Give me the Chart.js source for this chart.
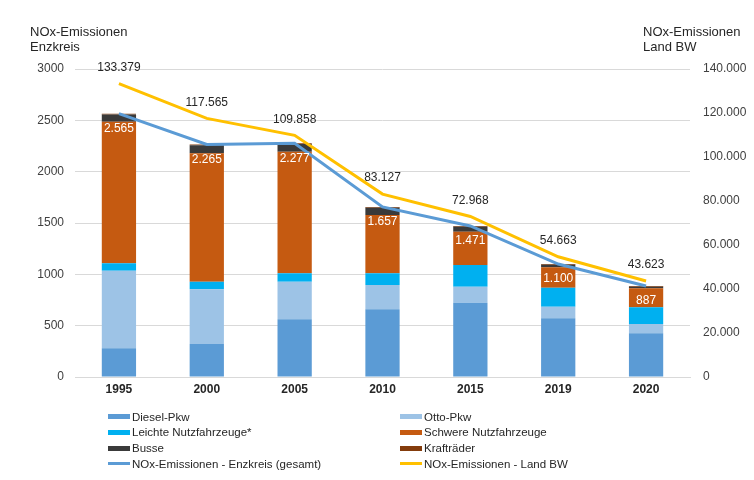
<!DOCTYPE html>
<html>
<head>
<meta charset="utf-8">
<script src="https://cdn.jsdelivr.net/npm/chart.js@4"></script>
<style>
  html, body { margin:0; padding:0; background:#fff; }
  #wrap { position:relative; width:754px; height:480px; font-family:"Liberation Sans", Arial, sans-serif; }
  canvas { position:absolute; left:0; top:0; }
  .title { position:absolute; font-size:13px; line-height:15px; color:#262626; }
  .leg { position:absolute; font-size:11.5px; color:#262626; line-height:16px; white-space:nowrap; }
  .leg span.sw { display:inline-block; width:22px; vertical-align:middle; margin-right:2px; position:relative; top:-1px; }
</style>
</head>
<body>
<div id="wrap">
  <canvas id="c" width="754" height="480"></canvas>
  <div class="title" style="left:30px; top:24px;">NOx-Emissionen<br>Enzkreis</div>
  <div class="title" style="left:643px; top:24px;">NOx-Emissionen<br>Land BW</div>
  <div id="legend"></div>
</div>
<script>
const categories = ["1995", "2000", "2005", "2010", "2015", "2019", "2020"];
const dieselPkw   = [280, 321, 562, 659, 724, 572, 425];
const ottoPkw     = [755, 533, 366, 237, 156, 113, 91];
const leichteNfz  = [72, 74, 82, 114, 211, 185, 163];
const schwereNfz  = [1380, 1251, 1184, 568, 324, 198, 185];
const busse       = [70, 78, 75, 70, 48, 25, 16];
const kraftraeder = [8, 8, 8, 9, 8, 7, 7];
const enzkreisGesamt = [2565, 2265, 2277, 1657, 1471, 1100, 887];
const landBW = [133379, 117565, 109858, 83127, 72968, 54663, 43623];
const leftTicks = [0, 500, 1000, 1500, 2000, 2500, 3000];
const rightTicks = [0, 20000, 40000, 60000, 80000, 100000, 120000, 140000];

const fmt = v => String(v).replace(/\B(?=(\d{3})+(?!\d))/g, ".");

const barDefs = [
  ["Diesel-Pkw", dieselPkw, "#5B9BD5"],
  ["Otto-Pkw", ottoPkw, "#9DC3E6"],
  ["Leichte Nutzfahrzeuge*", leichteNfz, "#00B0F0"],
  ["Schwere Nutzfahrzeuge", schwereNfz, "#C55A11"],
  ["Busse", busse, "#3A3A3A"],
  ["Krafträder", kraftraeder, "#843C0C"]
];

const datasets = [
  { type:'line', label:"NOx-Emissionen - Land BW", data:landBW, yAxisID:'y2', borderColor:"#FFC000", borderWidth:3, pointRadius:0, fill:false, tension:0, order:0 },
  { type:'line', label:"NOx-Emissionen - Enzkreis (gesamt)", data:enzkreisGesamt, yAxisID:'y', stack:'line', borderColor:"#5B9BD5", borderWidth:3, pointRadius:0, fill:false, tension:0, order:1 }
];
barDefs.forEach(([label, data, color]) => {
  datasets.push({ type:'bar', label, data, backgroundColor:color, yAxisID:'y', stack:'bars', barPercentage:0.39, categoryPercentage:1.0, order:2 });
});

const labelPlugin = {
  id:'labels',
  afterDatasetsDraw(chart) {
    const ctx = chart.ctx;
    const y = chart.scales.y, x = chart.scales.x;
    ctx.save();
    ctx.font = '12px "Liberation Sans", Arial, sans-serif';
    ctx.textAlign = 'center';
    ctx.textBaseline = 'middle';
    const lineMeta = chart.getDatasetMeta(0);
    landBW.forEach((v, i) => {
      const p = lineMeta.data[i];
      ctx.fillStyle = '#262626';
      ctx.fillText(fmt(v), p.x, p.y - 16);
    });
    enzkreisGesamt.forEach((v, i) => {
      ctx.fillStyle = '#FFFFFF';
      ctx.fillText(fmt(v), x.getPixelForValue(i), y.getPixelForValue(v) + 15);
    });
    ctx.restore();
  }
};

new Chart(document.getElementById('c'), {
  data: { labels: categories, datasets },
  plugins: [labelPlugin],
  options: {
    responsive:false,
    animation:false,
    devicePixelRatio:1,
    layout: { padding: { left:0, right:0, top:69, bottom:78 } },
    plugins: { legend:{ display:false }, tooltip:{ enabled:false } },
    scales: {
      x: {
        stacked:true,
        grid:{ display:false, drawTicks:false },
        border:{ display:true, color:'#D9D9D9', width:1 },
        ticks:{ color:'#262626', font:{ family:'"Liberation Sans", Arial, sans-serif', size:12, weight:'bold' }, padding:5 },
        afterFit(s){ s.height = 25; }
      },
      y: {
        position:'left', stacked:true, min:0, max:3000,
        afterBuildTicks(s){ s.ticks = leftTicks.map(v => ({ value:v })); },
        grid:{ color:'#D9D9D9', drawTicks:false },
        border:{ display:false },
        ticks:{ color:'#404040', font:{ family:'"Liberation Sans", Arial, sans-serif', size:12 }, padding:11, callback:v => String(v) },
        afterFit(s){ s.width = 75; }
      },
      y2: {
        position:'right', min:0, max:140000,
        afterBuildTicks(s){ s.ticks = rightTicks.map(v => ({ value:v })); },
        grid:{ display:false, drawTicks:false },
        border:{ display:false },
        ticks:{ color:'#404040', font:{ family:'"Liberation Sans", Arial, sans-serif', size:12 }, padding:13, callback:v => fmt(v) },
        afterFit(s){ s.width = 64; }
      }
    }
  }
});

// HTML legend (two columns, row-major like the reference)
const legendItems = [
  ["Diesel-Pkw", "#5B9BD5", "box"], ["Otto-Pkw", "#9DC3E6", "box"],
  ["Leichte Nutzfahrzeuge*", "#00B0F0", "box"], ["Schwere Nutzfahrzeuge", "#C55A11", "box"],
  ["Busse", "#3A3A3A", "box"], ["Krafträder", "#843C0C", "box"],
  ["NOx-Emissionen - Enzkreis (gesamt)", "#5B9BD5", "line"], ["NOx-Emissionen - Land BW", "#FFC000", "line"]
];
const legendEl = document.getElementById('legend');
legendItems.forEach((it, i) => {
  const col = i % 2, row = Math.floor(i / 2);
  const d = document.createElement('div');
  d.className = 'leg';
  d.style.left = (col === 0 ? 108 : 400) + 'px';
  d.style.top = (408.5 + row * 15.8) + 'px';
  const sw = document.createElement('span');
  sw.className = 'sw';
  sw.style.height = it[2] === 'box' ? '5px' : '3px';
  sw.style.background = it[1];
  d.appendChild(sw);
  d.appendChild(document.createTextNode(it[0]));
  legendEl.appendChild(d);
});
</script>
</body>
</html>
